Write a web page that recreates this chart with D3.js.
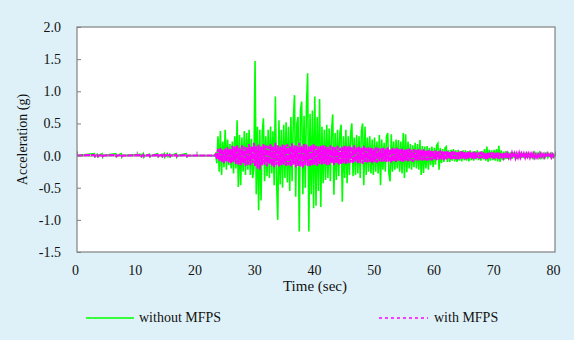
<!DOCTYPE html>
<html>
<head>
<meta charset="utf-8">
<script src="https://cdn.jsdelivr.net/npm/d3@7"></script>
<style>
  html, body { margin: 0; padding: 0; background: #dff1f8; }
  svg { display: block; font-family: "Liberation Serif", "Times New Roman", serif; }
</style>
</head>
<body>
<svg id="chart" width="574" height="340"></svg>
<script>
// Axis ticks
const xTicks = [0, 10, 20, 30, 40, 50, 60, 70, 80];
const yTicks = [-1.5, -1.0, -0.5, 0.0, 0.5, 1.0, 1.5, 2.0];

// Pre-event record (sec, g): isolated small pulses before the strong motion
const quietTime = [0, 2.9, 3.0, 3.1, 3.4, 3.5, 3.6, 4.2, 4.3, 4.4, 6.5, 6.6, 6.7, 7.4, 7.5, 7.6,
  10.7, 10.8, 10.9, 11.1, 11.2, 11.3, 12.1, 12.2, 12.3, 13.5, 13.6, 13.7, 14.2, 14.3, 14.4,
  14.6, 14.7, 14.8, 15.1, 15.2, 15.3, 15.5, 15.6, 15.7, 16.6, 16.7, 16.8, 18.3, 18.4, 18.5, 22.8];
const quietWithout = [0, 0.03, -0.03, 0, 0.02, -0.03, 0, 0.03, -0.02, 0, 0.03, -0.03, 0, 0.03, -0.02, 0,
  0.02, -0.03, 0, 0.03, -0.02, 0, 0.02, -0.03, 0, 0.03, -0.03, 0, 0.02, -0.03, 0,
  0.03, -0.02, 0, 0.03, -0.03, 0, 0.02, -0.03, 0, 0.03, -0.02, 0, 0.03, -0.03, 0, 0];
const quietWith = [0, 0.01, -0.01, 0, 0.01, -0.01, 0, 0.01, -0.01, 0, 0.01, -0.01, 0, 0.01, -0.01, 0,
  0.01, -0.01, 0, 0.01, -0.01, 0, 0.01, -0.01, 0, 0.01, -0.01, 0, 0.01, -0.01, 0,
  0.01, -0.01, 0, 0.01, -0.01, 0, 0.01, -0.01, 0, 0.01, -0.01, 0, 0.01, -0.01, 0, 0];

// Strong-motion record, sampled every 0.2 s from 23.0 s to 80.0 s (g)
const recordStart = 23.0;
const recordStep = 0.2;
const accWithout = [
  0.00, 0.03, -0.12, 0.30, -0.25, 0.38, -0.30, 0.22, -0.18, 0.40,
  -0.22, 0.25, -0.15, 0.18, -0.20, 0.22, -0.28, 0.30, -0.20, 0.55,
  -0.49, 0.32, -0.46, 0.28, -0.25, 0.38, -0.30, 0.35, -0.22, 0.40,
  -0.30, 0.26, -0.35, -0.20, 1.47, -0.60, 0.45, -0.85, 0.40, -0.70,
  0.35, 0.58, -0.40, 0.30, -0.32, 0.40, -0.35, 0.45, -0.28, 0.38,
  -0.46, 0.92, -0.40, -1.00, 0.55, -0.45, 0.40, -0.50, 0.48, -0.35,
  0.52, -0.42, 0.45, -0.55, 0.60, -0.40, 0.55, 0.94, -0.64, 0.50,
  0.60, -1.18, 0.70, 0.84, -0.60, 0.62, -0.50, 0.75, 1.28, -1.18,
  0.65, -0.60, 0.70, -0.82, 0.92, -0.78, 0.60, -0.55, 0.88, -0.80,
  0.45, -0.43, 0.40, -0.38, 0.48, -0.35, 0.42, -0.40, 0.38, 0.64,
  -0.61, 0.35, -0.38, 0.40, -0.32, 0.36, 0.48, -0.72, 0.30, -0.35,
  0.40, -0.43, 0.30, -0.30, 0.35, 0.50, -0.32, 0.28, -0.30, 0.32,
  -0.28, 0.30, -0.35, 0.38, 0.50, -0.46, 0.45, -0.30, 0.28, -0.25,
  0.30, -0.28, 0.25, -0.30, 0.28, -0.25, 0.22, -0.28, 0.32, -0.46,
  0.25, -0.22, 0.20, -0.25, 0.30, 0.35, -0.28, -0.40, 0.33, -0.25,
  0.22, -0.22, 0.25, -0.20, 0.24, -0.25, 0.22, -0.28, 0.35, -0.35,
  0.33, -0.26, 0.22, -0.20, 0.18, -0.22, 0.16, -0.18, 0.20, -0.20,
  0.18, -0.22, 0.24, -0.30, 0.15, -0.27, 0.14, -0.20, 0.15, -0.22,
  0.12, -0.15, 0.14, -0.18, 0.12, -0.14, 0.16, 0.19, -0.22, 0.12,
  -0.12, 0.10, -0.10, 0.12, 0.14, -0.10, 0.08, -0.10, 0.09, -0.08,
  0.10, -0.09, 0.08, -0.10, 0.09, -0.08, 0.07, -0.09, 0.08, -0.07,
  0.08, -0.08, 0.07, -0.09, 0.08, -0.07, 0.06, -0.08, 0.07, -0.06,
  0.08, -0.07, 0.06, -0.08, 0.07, -0.06, 0.10, -0.08, 0.14, -0.10,
  0.09, -0.08, 0.08, -0.07, 0.09, -0.08, 0.10, -0.09, 0.15, -0.10,
  0.08, -0.07, 0.06, -0.06, 0.07, -0.05, 0.06, -0.06, 0.05, -0.05,
  0.05, -0.04, 0.05, -0.05, 0.04, -0.04, 0.05, -0.04, 0.04, -0.04,
  0.04, -0.04, 0.05, -0.03, 0.04, -0.04, 0.03, -0.03, 0.04, -0.03,
  0.03, -0.03, 0.04, -0.03, 0.03, -0.03, 0.03, -0.02, 0.03, -0.03,
  0.02, -0.02, 0.03, -0.02, 0.02, -0.01
];
const accWith = [
  0.00, 0.02, -0.05, 0.10, -0.08, 0.12, -0.10, 0.09, -0.12, 0.11,
  -0.09, 0.13, -0.11, 0.10, -0.12, 0.15, -0.10, 0.14, -0.13, 0.16,
  -0.14, 0.12, -0.15, 0.16, -0.12, 0.14, -0.16, 0.13, -0.14, 0.18,
  -0.15, 0.14, -0.12, 0.20, -0.16, 0.15, -0.20, 0.17, -0.22, 0.14,
  -0.15, 0.18, -0.14, 0.16, -0.17, 0.15, -0.13, 0.18, -0.16, 0.14,
  -0.18, 0.20, -0.15, 0.16, -0.17, 0.14, -0.15, 0.17, -0.14, 0.16,
  -0.16, 0.18, -0.15, 0.14, -0.17, 0.19, -0.14, 0.16, -0.18, 0.15,
  -0.16, 0.20, -0.17, 0.15, -0.19, 0.18, -0.15, 0.17, -0.16, 0.14,
  -0.17, 0.16, -0.15, 0.18, -0.14, 0.15, -0.16, 0.14, -0.13, 0.15,
  -0.14, 0.16, -0.13, 0.15, -0.15, 0.13, -0.14, 0.16, -0.12, 0.14,
  -0.15, 0.13, -0.12, 0.15, -0.14, 0.12, -0.13, 0.14, -0.12, 0.15,
  -0.13, 0.14, -0.12, 0.15, -0.11, 0.13, -0.12, 0.16, -0.10, 0.13,
  -0.12, 0.14, -0.11, 0.12, -0.13, 0.15, -0.10, 0.12, -0.11, 0.13,
  -0.10, 0.12, -0.12, 0.11, -0.10, 0.13, -0.11, 0.12, -0.09, 0.11,
  -0.10, 0.12, -0.09, 0.11, -0.10, 0.13, -0.09, 0.10, -0.11, 0.12,
  -0.09, 0.11, -0.10, 0.12, -0.08, 0.10, -0.09, 0.11, -0.10, 0.09,
  -0.08, 0.10, -0.09, 0.11, -0.08, 0.09, -0.10, 0.10, -0.08, 0.09,
  -0.08, 0.10, -0.07, 0.09, -0.08, 0.10, -0.07, 0.08, -0.08, 0.09,
  -0.07, 0.08, -0.08, 0.07, -0.06, 0.08, -0.07, 0.07, -0.06, 0.08,
  -0.06, 0.07, -0.07, 0.06, -0.06, 0.07, -0.05, 0.06, -0.06, 0.07,
  -0.05, 0.06, -0.06, 0.05, -0.06, 0.06, -0.05, 0.07, -0.05, 0.06,
  -0.06, 0.05, -0.05, 0.06, -0.04, 0.05, -0.05, 0.06, -0.05, 0.05,
  -0.04, 0.05, -0.05, 0.06, -0.04, 0.05, -0.05, 0.04, -0.06, 0.05,
  -0.04, 0.05, -0.04, 0.05, -0.05, 0.04, -0.04, 0.05, -0.05, 0.04,
  -0.04, 0.04, -0.03, 0.04, -0.04, 0.03, -0.03, 0.04, -0.03, 0.04,
  -0.03, 0.03, -0.04, 0.03, -0.03, 0.04, -0.03, 0.03, -0.03, 0.03,
  -0.03, 0.03, -0.02, 0.03, -0.03, 0.03, -0.02, 0.03, -0.03, 0.02,
  -0.03, 0.02, -0.02, 0.03, -0.02, 0.02, -0.03, 0.02, -0.02, 0.03,
  -0.02, 0.02, -0.03, 0.02, -0.02, 0.01
];

const seriesNames = ["without MFPS", "with MFPS"];
const seriesColors = ["#00ff00", "#ff00ff"];

// Layout
const plot = { left: 77, right: 555, top: 27, bottom: 252 };
const svg = d3.select("#chart");
const x = d3.scaleLinear().domain([0, 80]).range([plot.left, plot.right]);
const y = d3.scaleLinear().domain([-1.5, 2.0]).range([plot.bottom, plot.top]);

function buildSeries(qt, qv, rec) {
  const pts = qt.map((t, i) => ({ t, v: qv[i] }));
  rec.forEach((v, i) => pts.push({ t: recordStart + i * recordStep, v }));
  return pts;
}
const dataWithout = buildSeries(quietTime, quietWithout, accWithout);
const dataWith = buildSeries(quietTime, quietWith, accWith);

// Plot area
svg.append("rect")
  .attr("x", plot.left).attr("y", plot.top)
  .attr("width", plot.right - plot.left).attr("height", plot.bottom - plot.top)
  .attr("fill", "#ffffff");

svg.append("clipPath").attr("id", "clip")
  .append("rect")
  .attr("x", plot.left).attr("y", plot.top)
  .attr("width", plot.right - plot.left).attr("height", plot.bottom - plot.top);

// Zero line with inward ticks
const zeroAxis = svg.append("g")
  .attr("transform", `translate(0,${y(0)})`)
  .call(d3.axisBottom(x).tickValues(xTicks).tickSize(-4).tickFormat(""));
zeroAxis.selectAll("path, line").attr("stroke", "#808080");

const line = d3.line().x(d => x(d.t)).y(d => y(d.v));

const traces = svg.append("g").attr("clip-path", "url(#clip)");
traces.append("path")
  .datum(dataWithout)
  .attr("d", line)
  .style("fill", "none")
  .style("stroke", seriesColors[0])
  .style("stroke-width", 1.6);
// The dotted "with MFPS" trace is dense enough to read as a solid band
traces.append("path")
  .datum(dataWith)
  .attr("d", line)
  .style("fill", "none")
  .style("stroke", seriesColors[1])
  .style("stroke-width", 2)
  .style("stroke-dasharray", "6,1");

// Plot border
svg.append("rect")
  .attr("x", plot.left).attr("y", plot.top)
  .attr("width", plot.right - plot.left).attr("height", plot.bottom - plot.top)
  .attr("fill", "none")
  .attr("stroke", "#808080")
  .attr("stroke-width", 1.2);

// Y axis
const yAxis = svg.append("g")
  .attr("transform", `translate(${plot.left},0)`)
  .call(d3.axisLeft(y).tickValues(yTicks).tickSize(-4).tickPadding(16)
    .tickFormat(d => d.toFixed(1)));
yAxis.select(".domain").remove();
yAxis.selectAll("line").attr("stroke", "#808080");
yAxis.selectAll("text")
  .attr("font-size", 14).attr("fill", "#111")
  .attr("font-family", "Liberation Serif, serif");

// X axis labels along the bottom
const xAxis = svg.append("g")
  .attr("transform", `translate(-2,${plot.bottom})`)
  .call(d3.axisBottom(x).tickValues(xTicks).tickSize(0).tickPadding(13));
xAxis.select(".domain").remove();
xAxis.selectAll("text")
  .attr("font-size", 14).attr("fill", "#111")
  .attr("font-family", "Liberation Serif, serif");

// Axis titles
svg.append("text")
  .attr("x", (plot.left + plot.right) / 2 - 1)
  .attr("y", 291)
  .attr("text-anchor", "middle")
  .attr("font-size", 15).attr("fill", "#111")
  .text("Time (sec)");

svg.append("text")
  .attr("transform", `translate(27,${(plot.top + plot.bottom) / 2}) rotate(-90)`)
  .attr("text-anchor", "middle")
  .attr("font-size", 14).attr("fill", "#111")
  .text("Acceleration (g)");

// Legend
const legendItems = [
  { x0: 86, x1: 134, tx: 139, dash: "none" },
  { x0: 379, x1: 428, tx: 434, dash: "3,3" }
];
const legend = svg.append("g").attr("class", "legend");
legendItems.forEach((d, i) => {
  legend.append("path")
    .attr("d", `M${d.x0},318H${d.x1}`)
    .style("fill", "none")
    .style("stroke", seriesColors[i])
    .style("stroke-width", 1.5)
    .style("stroke-dasharray", d.dash);
  legend.append("text")
    .attr("x", d.tx).attr("y", 322)
    .attr("font-size", 14).attr("fill", "#111")
    .text(seriesNames[i]);
});
</script>
</body>
</html>
